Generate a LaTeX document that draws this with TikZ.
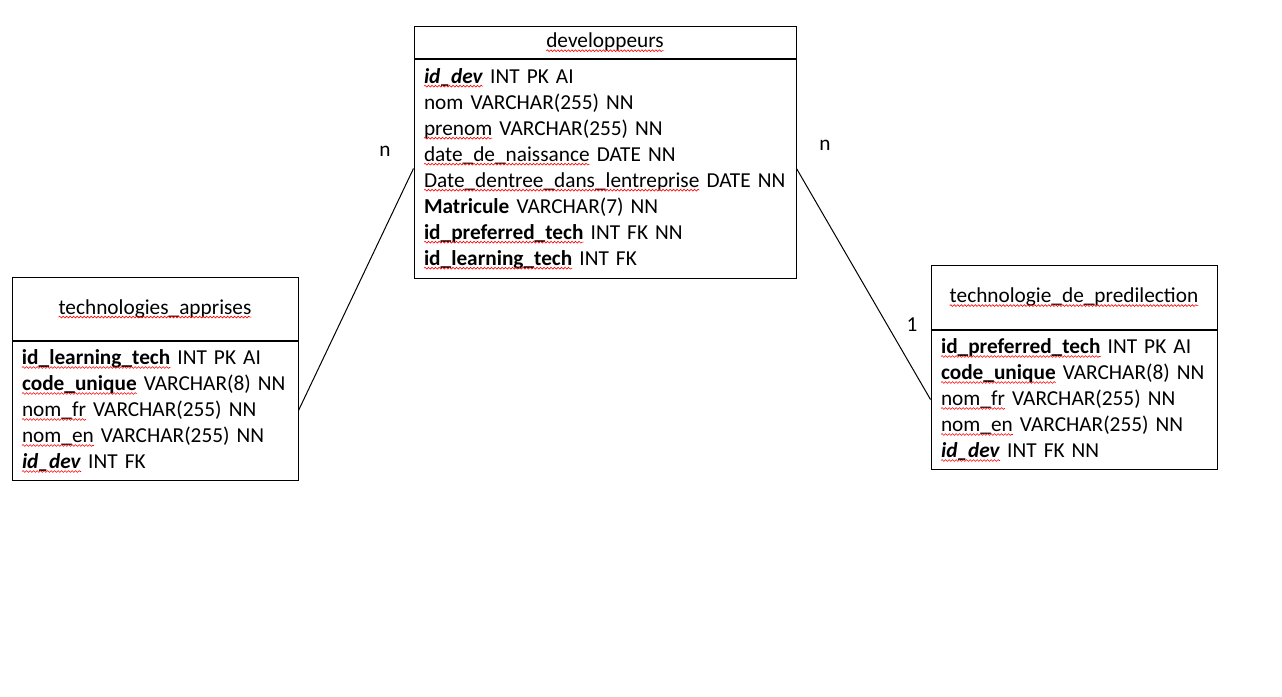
\documentclass[tikz,border=0pt]{standalone}
\usepackage{fontspec}
\setmainfont{Carlito}
\usetikzlibrary{positioning}
\usetikzlibrary{decorations.pathmorphing}
\tikzset{tabhead/.style = {draw, line width=1pt, minimum width=#1, inner sep=0pt}}
\tikzset{tabbody/.style = {draw, line width=1pt, text width=#1, inner xsep=10pt, inner ysep=0pt, align=left}}
\tikzset{card/.style = {inner sep=0pt}}
\tikzset{wavy/.style = {overlay, red, line width=0.6pt, decorate,
                        decoration={snake, amplitude=0.9pt, segment length=3.5pt}}}
\tikzset{plainword/.style = {draw=none, inner sep=0pt, outer sep=0pt, minimum width=0pt,
                             minimum height=0pt, text width=, align=left}}
\newcommand\spl[1]{\tikz[baseline=(sw.base)]{\node [plainword] (sw) {#1};
    \draw [wavy, line width=0.6pt] ([yshift=-3pt]sw.base west) -- ([yshift=-3pt]sw.base east);}}

\begin{document}
\begin{tikzpicture}[x=1pt, y=-1pt, font=\fontsize{21.3}{26}\selectfont]
      \useasboundingbox [fill=white] (0, 0) rectangle (1282, 696);

      \node [tabhead=382, minimum height=32] (devhead) at (605, 42) {\spl{developpeurs}};
      \node [tabbody=362, minimum height=219, below=0pt of devhead] (devbody) {%
        \spl{\textbf{\textit{id\_dev}}}~INT~PK~AI\\
        nom~VARCHAR(255)~NN\\
        \spl{prenom}~VARCHAR(255)~NN\\
        \spl{date\_de\_naissance}~DATE~NN\\
        \spl{Date\_dentree\_dans\_lentreprise}~DATE~NN\\
        \textbf{Matricule}~VARCHAR(7)~NN\\
        \spl{\textbf{id\_preferred\_tech}}~INT~FK~NN\\
        \spl{\textbf{id\_learning\_tech}}~INT~FK};

      \node [tabhead=286, minimum height=63] (apphead) at (155, 308.5) {\spl{technologies\_apprises}};
      \node [tabbody=266, minimum height=139, below=0pt of apphead] (appbody) {%
        \spl{\textbf{id\_learning\_tech}}~INT~PK~AI\\
        \spl{\textbf{code\_unique}}~VARCHAR(8)~NN\\
        \spl{nom\_fr}~VARCHAR(255)~NN\\
        \spl{nom\_en}~VARCHAR(255)~NN\\
        \spl{\textbf{\textit{id\_dev}}}~INT~FK};

      \node [tabhead=286, minimum height=64] (predhead) at (1074, 297) {\spl{technologie\_de\_predilection}};
      \node [tabbody=266, minimum height=139, below=0pt of predhead] (predbody) {%
        \spl{\textbf{id\_preferred\_tech}}~INT~PK~AI\\
        \spl{\textbf{code\_unique}}~VARCHAR(8)~NN\\
        \spl{nom\_fr}~VARCHAR(255)~NN\\
        \spl{nom\_en}~VARCHAR(255)~NN\\
        \spl{\textbf{\textit{id\_dev}}}~INT~FK~NN};

      \draw [line width=1pt] (devbody.west) -- (appbody.east);
      \draw [line width=1pt] (devbody.east) -- (predbody.west);

      \node [card] (cardapp) at (385, 151) {n};
      \node [card] (carddev) at (825, 145) {n};
      \node [card] (cardpred) at (912, 325) {1};
    \end{tikzpicture}
\end{document}
